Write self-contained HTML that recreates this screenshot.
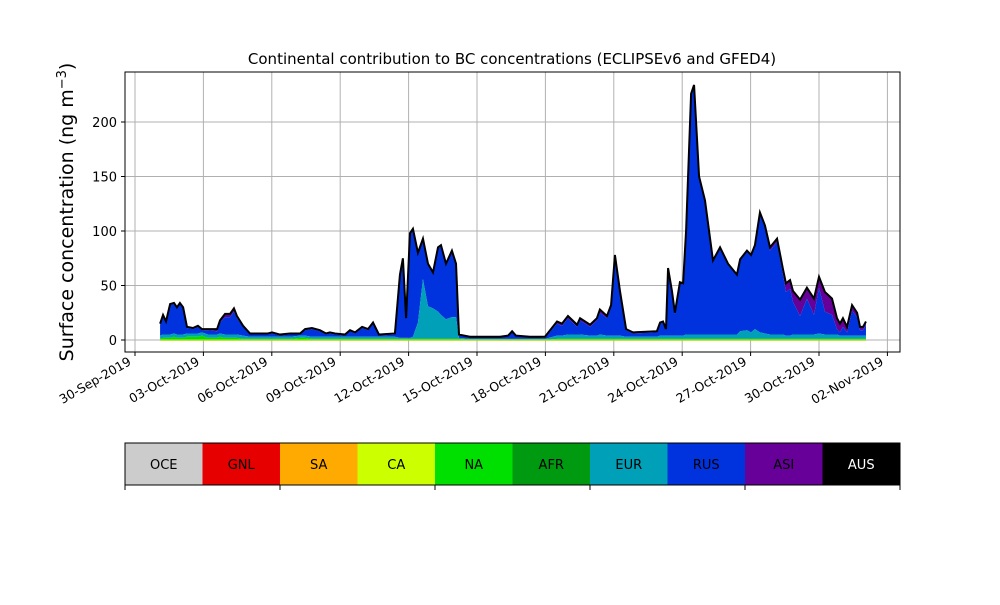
<!DOCTYPE html>
<html><head><meta charset="utf-8"><style>
body{margin:0;background:#fff;font-family:"Liberation Sans","DejaVu Sans",sans-serif}
svg text{font-family:"DejaVu Sans","Liberation Sans",sans-serif}
</style></head><body>
<svg id="c" width="1000" height="600" xmlns="http://www.w3.org/2000/svg"></svg>
<script>
const xTickLabels=["30-Sep-2019","03-Oct-2019","06-Oct-2019","09-Oct-2019","12-Oct-2019","15-Oct-2019","18-Oct-2019","21-Oct-2019","24-Oct-2019","27-Oct-2019","30-Oct-2019","02-Nov-2019"];
const yTicks=[0,50,100,150,200];
const legendNames=["OCE","GNL","SA","CA","NA","AFR","EUR","RUS","ASI","AUS"];
const legendColors=["#cccccc","#e60000","#ffaa00","#ccff00","#00e000","#009a10","#00a0b8","#0033dd","#660099","#000000"];
const days=[1.10,1.23,1.36,1.54,1.71,1.84,1.97,2.11,2.28,2.54,2.76,2.94,3.20,3.60,3.73,3.95,4.17,4.34,4.47,4.74,5.04,5.57,5.83,6.01,6.36,6.80,7.24,7.46,7.76,8.11,8.38,8.55,8.77,9.21,9.43,9.65,9.96,10.22,10.44,10.70,11.40,11.62,11.75,11.89,12.06,12.19,12.41,12.63,12.85,13.07,13.29,13.42,13.64,13.90,14.08,14.21,14.69,16.01,16.36,16.54,16.71,17.32,17.98,18.51,18.73,18.99,19.39,19.52,19.96,20.26,20.39,20.70,20.88,21.05,21.27,21.54,21.84,22.89,23.03,23.16,23.29,23.38,23.55,23.68,23.90,24.04,24.17,24.39,24.52,24.74,25.00,25.35,25.66,26.01,26.40,26.54,26.84,27.02,27.19,27.41,27.63,27.85,28.16,28.42,28.55,28.73,28.86,29.17,29.47,29.78,30.00,30.26,30.57,30.79,30.92,31.05,31.23,31.45,31.67,31.80,31.93,32.06];
const total=[15,23,17,33,34,30,34,30,12,11,13,10,10,10,18,24,24,29,22,13,6,6,6,7,5,6,6,10,11,9,6,7,6,5,9,7,12,10,16,5,6,60,75,20,98,102,80,93,70,62,85,87,70,82,70,5,3,3,4,8,4,3,3,17,15,22,14,20,14,20,28,22,32,78,45,10,7,8,16,17,10,66,45,25,53,52,100,226,234,150,128,73,85,70,60,74,82,78,87,117,105,85,93,65,52,55,45,37,48,38,58,44,38,20,15,20,12,32,25,12,12,17];
const na=[1,2,2,2,3,2,2,2,3,3,3,4,2,2,3,2,2,2,2,1,1,1,1,1,1,1,2,2,1,1,1,1,1,1,1,1,1,1,1,1,1,1,1,1,1,1,1,1,1,1,1,1,1,1,1,1,0,0,0,0,0,0,0,1,1,1,1,1,1,1,1,1,1,1,1,1,1,1,1,1,1,1,1,1,1,1,1,1,1,1,1,1,1,1,1,1,1,1,1,1,1,1,1,1,1,1,1,1,1,1,1,1,1,1,1,1,1,1,1,1,1,1];
const eur=[3,3,3,3,3,3,3,3,3,3,3,3,3,3,3,3,3,3,3,3,2,2,2,2,2,2,2,2,2,2,2,2,2,2,2,2,2,2,2,2,2,1,1,1,1,2,15,55,30,28,25,22,18,20,20,1,1,1,1,1,1,1,1,3,3,4,4,4,3,3,4,3,3,3,3,2,2,2,3,3,3,3,3,3,3,3,4,4,4,4,4,4,4,4,4,7,8,6,9,6,5,4,4,4,3,3,4,4,4,4,5,4,4,4,3,3,3,3,3,3,3,3];
const asi=[1,1,1,1,1,1,1,1,1,1,1,1,1,2,2,3,3,3,2,1,1,1,1,1,1,1,1,1,1,1,1,1,1,1,1,1,1,1,1,1,1,1,1,1,1,1,1,1,1,1,1,1,1,1,1,1,0,0,0,0,0,0,1,2,2,2,2,2,2,2,3,2,2,2,2,1,1,1,1,1,1,1,1,1,1,1,1,1,1,1,1,1,1,1,1,1,1,1,1,2,2,3,3,5,8,8,10,15,10,15,10,18,15,10,8,8,5,5,4,3,3,3];
const NS="http://www.w3.org/2000/svg";
const svg=document.getElementById('c');
const L=125,R=900,T=72,B=352;
const xs=d=>135+d*22.8, ys=v=>340-v*1.09;
function el(t,a,p){const e=document.createElementNS(NS,t);for(const k in a)e.setAttribute(k,a[k]);(p||svg).appendChild(e);return e;}
const grid=el('g',{});


xTickLabels.forEach((s,i)=>{const x=xs(i*3);
 el('line',{x1:x,x2:x,y1:T,y2:B,stroke:'#b0b0b0','stroke-width':1},grid);
 el('line',{x1:x,x2:x,y1:B,y2:B+4,stroke:'#000'});
 const tx=x-3, ty=B+12;
 const t=el('text',{x:tx,y:ty,'font-size':12.5,'text-anchor':'end',transform:`rotate(-30 ${tx} ${ty})`});
 t.textContent=s;
 
 
});
yTicks.forEach(v=>{const y=ys(v);
 el('line',{x1:L,x2:R,y1:y,y2:y,stroke:'#b0b0b0','stroke-width':1},grid);
 el('line',{x1:L-4,x2:L,y1:y,y2:y,stroke:'#000'});
 const t=el('text',{x:L-8,y:y+5,'font-size':13,'text-anchor':'end'});t.textContent=v;
 
 
});
const n=days.length;
const c1=[],c2=[],c3=[];
for(let i=0;i<n;i++){c1.push(na[i]);c2.push(na[i]+eur[i]);c3.push(total[i]-asi[i]);}
function band(lo,hi,col,name){
 let d='M'+days.map((dd,i)=>xs(dd)+','+ys(hi[i])).join('L');
 for(let i=n-1;i>=0;i--)d+='L'+xs(days[i])+','+ys(lo[i]);
 const p=el('path',{d:d+'Z',fill:col});
 
 
}
const zero=days.map(()=>0);
band(c3,total,'#660099','area-asi');
band(c2,c3,'#0033dd','area-rus');
band(c1,c2,'#00a0b8','area-eur');
band(zero,c1,'#00e000','area-na');
el('line',{x1:xs(days[0]),x2:xs(days[n-1]),y1:ys(0),y2:ys(0),stroke:'#a0e000','stroke-width':1.5});
const tl=el('path',{d:'M'+days.map((d,i)=>xs(d)+','+ys(total[i])).join('L'),fill:'none',stroke:'#000','stroke-width':2});


const fr=el('rect',{x:L,y:T,width:R-L,height:B-T,fill:'none',stroke:'#000'});


const ti=el('text',{x:512,y:64,'font-size':15,'text-anchor':'middle'});ti.textContent='Continental contribution to BC concentrations (ECLIPSEv6 and GFED4)';


const yl=el('text',{x:73,y:212,'font-size':19,'text-anchor':'middle',transform:'rotate(-90 73 212)'});
yl.innerHTML='Surface concentration (ng m<tspan dy="-7" font-size="13">−3</tspan><tspan dy="7">)</tspan>';


const w=(R-L)/10;
legendNames.forEach((s,i)=>{
 const r=el('rect',{x:L+i*w,y:443,width:w,height:42,fill:legendColors[i]});
 
 
 const t=el('text',{x:L+i*w+w/2,y:469,'font-size':13,'text-anchor':'middle',fill:i==9?'#fff':'#000'});t.textContent=s;
 
 
});
el('rect',{x:L,y:443,width:R-L,height:42,fill:'none',stroke:'#000'});
for(let i=0;i<=10;i+=2)el('line',{x1:L+i*w,x2:L+i*w,y1:485,y2:490,stroke:'#000'});
</script>
</body></html>
